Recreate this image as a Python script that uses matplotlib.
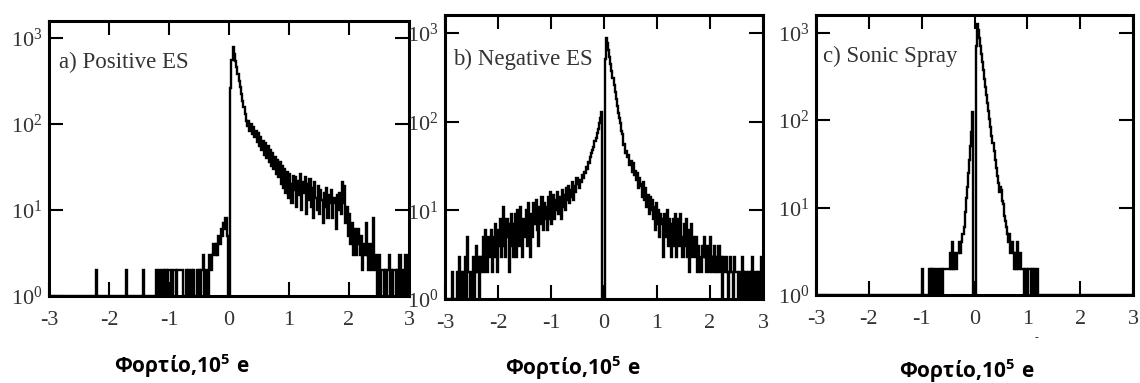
import numpy as np
import matplotlib
matplotlib.use('Agg')
import matplotlib.pyplot as plt

plt.rcParams['font.family'] = 'Liberation Serif'
plt.rcParams['axes.unicode_minus'] = False
plt.rcParams['mathtext.fontset'] = 'custom'
plt.rcParams['mathtext.rm'] = 'Liberation Serif'
plt.rcParams['mathtext.bf'] = 'Open Sans:bold'

# histogram bins: width 0.02 from -3 to 3
bin_w = 0.02

# a) Positive ES
a_core_start = -1.00
a_core = [2, 2, 1, 2, 2, 2, 1, 2, 2, 2, 2, 2, 1, 1, 2, 1, 2, 1, 2, 1,
          2, 1, 1, 2, 1, 2, 1, 2, 3, 1, 1, 2, 1, 3, 3, 2, 3, 4, 3, 4,
          3, 5, 4, 6, 5, 7, 6, 8, 5, 1,
          1, 260, 560, 800, 660, 550, 460, 385, 320, 270, 225, 187, 157, 130, 110,
          96, 110, 84, 100, 76, 92, 70, 84, 62, 78,
          56, 70, 50, 64, 44, 60, 40, 55, 36, 50,
          33, 46, 30, 42, 26, 38, 24, 36, 20, 33,
          18, 30, 16, 28, 14, 26, 20, 12, 25, 17,
          24, 11, 22, 15, 26, 10, 21, 16, 24, 9,
          20, 13, 23, 11, 18, 8, 21, 14, 10, 19,
          9, 17, 13, 7, 16, 11, 18, 8, 15, 12,
          17, 8, 14, 12, 6, 15, 10, 16, 9, 21,
          12, 19, 7, 11, 5, 9, 4, 7, 3, 6,
          5, 3, 6, 4, 3, 5, 2, 4, 3, 7,
          3, 2, 4, 2, 3, 8, 2, 3, 1, 2,
          3, 1, 2, 2, 1, 2, 1, 2, 3, 1,
          2, 1, 2, 2, 1, 2, 1, 3, 1, 2,
          2, 1, 3, 1, 2]
a_spike_x = [-2.22, -1.72, -1.44, -1.22, -1.16, -1.10, -1.06, -1.02]
a_spike_n = [2, 2, 2, 2, 2, 2, 2, 2]

# b) Negative ES
b_core_start = -2.50
b_core = [2, 3, 1, 2, 4, 2, 3, 1, 3, 2,
          3, 5, 2, 6, 3, 2, 5, 3, 6, 2,
          5, 3, 7, 4, 2, 6, 4, 8, 3, 5,
          11, 4, 3, 8, 5, 2, 7, 9, 4, 3,
          7, 9, 3, 10, 6, 4, 11, 6, 3, 8,
          5, 10, 4, 12, 7, 3, 9, 5, 12, 7,
          8, 13, 6, 4, 11, 7, 14, 6, 12, 8,
          11, 6, 14, 8, 16, 7, 12, 15, 8, 13,
          10, 16, 9, 14, 8, 17, 11, 15, 10, 18,
          13, 19, 12, 17, 14, 21, 13, 19, 16, 23,
          20, 18, 22, 21, 25, 23, 27, 26, 31, 29,
          35, 34, 40, 44, 48, 52, 60, 66, 75, 82,
          95, 110, 128, 1, 1, 1, 500, 870, 760, 640,
          540, 450, 370, 310, 260, 215, 180, 150, 126, 110,
          95, 78, 72, 54, 56, 44, 46, 40, 42, 32,
          36, 27, 34, 25, 28, 22, 26, 18, 23, 19,
          20, 14, 21, 13, 18, 11, 15, 9, 14, 10,
          13, 8, 11, 6, 12, 7, 10, 5, 9, 7,
          8, 3, 9, 5, 10, 4, 8, 6, 3, 7,
          8, 4, 9, 3, 6, 8, 4, 9, 5, 3,
          7, 4, 8, 3, 6, 2, 5, 7, 3, 5,
          4, 3, 5, 2, 4, 3, 2, 4, 3, 5,
          3, 2, 4, 3, 2, 5, 3, 2, 3, 4,
          2, 3, 2, 4, 2, 3, 1, 3, 2, 2,
          3, 2, 1, 2, 3, 2, 2, 1, 3, 2,
          2, 1, 2, 2, 1, 3, 2, 1, 2, 2,
          1, 2, 2, 1, 2, 3, 1, 2, 2, 1,
          2, 2, 1, 3, 2]
b_spike_x = [-2.86, -2.78, -2.74, -2.70, -2.66, -2.62, -2.58, -2.56, -2.54]
b_spike_n = [2, 2, 3, 2, 2, 3, 5, 2, 2]

# c) Sonic Spray
c_core_start = -0.60
c_core = [2, 2, 2, 2, 2, 2, 2, 3, 2, 4,
          2, 3, 2, 3, 3, 4, 3, 4, 5, 5,
          6, 9, 13, 17, 25, 35, 50, 72, 125, 1,
          1, 700, 1260, 1070, 870, 705, 565, 455, 370, 295,
          240, 195, 158, 126, 102, 83, 66, 54, 44, 35,
          28, 23, 19, 15, 17, 16, 12, 11, 8, 7,
          6, 5, 4, 5, 3, 4, 3, 2, 3, 2,
          4, 2, 2, 3, 2, 2, 2, 1, 2, 2,
          1, 2, 2, 1, 2, 1, 2, 1, 1, 2]
c_spike_x = [-1.00, -0.86, -0.82, -0.78, -0.72, -0.66, -0.64]
c_spike_n = [2, 2, 2, 2, 2, 2, 2]

panel_titles = ['a) Positive ES', 'b) Negative ES', 'c) Sonic Spray']
xlabel = r'$\mathbf{Φορτίο{,}10^5\ e}$'

W, H = 1140, 383
edges = np.round(np.arange(-3.0, 3.0 + bin_w / 2, bin_w), 4)


def build_counts(core_start, core, spike_x, spike_n):
    counts = np.ones(len(edges) - 1)
    i0 = int(round((core_start + 3.0) / bin_w))
    counts[i0:i0 + len(core)] = core
    for x, n in zip(spike_x, spike_n):
        counts[int(round((x + 3.0) / bin_w))] = n
    return counts


data = [build_counts(a_core_start, a_core, a_spike_x, a_spike_n),
        build_counts(b_core_start, b_core, b_spike_x, b_spike_n),
        build_counts(c_core_start, c_core, c_spike_x, c_spike_n)]

# axes boxes in pixels: left, right, top, bottom
boxes = [(49, 409, 21, 296), (445, 763, 15, 299), (816, 1133, 15, 295)]
title_pos = [(0.028, 0.85), (0.025, 0.845), (0.022, 0.853)]
label_pos = [(182, 366), (573, 368), (967, 371)]

fig = plt.figure(figsize=(W / 100, H / 100), dpi=100)

for k in range(3):
    l, r, t, b = boxes[k]
    ax = fig.add_axes([l / W, 1 - b / H, (r - l) / W, (b - t) / H])
    ax.stairs(data[k], edges, baseline=None, color='black', lw=1.7)
    ax.set_yscale('log')
    ax.set_xlim(-3, 3)
    ax.set_ylim(1, 10 ** 3.2)
    ax.set_xticks([-3, -2, -1, 0, 1, 2, 3])
    ax.set_yticks([1, 10, 100, 1000])
    ax.minorticks_off()
    ax.tick_params(direction='in', length=10, width=1.5, top=True, right=True,
                   labelsize=16, labelcolor='#333333')
    ax.tick_params(axis='x', pad=11)
    ax.tick_params(axis='y', pad=5)
    for s in ax.spines.values():
        s.set_linewidth(2.2)
    ax.text(title_pos[k][0], title_pos[k][1], panel_titles[k], transform=ax.transAxes,
            fontsize=16.5, color='#333333', va='center', ha='left')
    fig.text(label_pos[k][0] / W, 1 - label_pos[k][1] / H, xlabel, fontsize=15,
             ha='center', va='center')

fig.text(1036 / W, 1 - 338 / H, '-', fontsize=8, ha='center', va='center')

plt.savefig('out.png', dpi=100)
